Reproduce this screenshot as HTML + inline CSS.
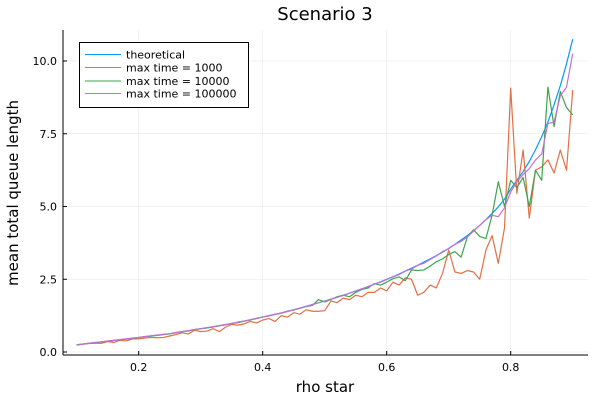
<!DOCTYPE html>
<html><head><meta charset="utf-8"><style>
body{margin:0;background:#fff}
svg{display:block;font-family:"DejaVu Sans","Liberation Sans",sans-serif}
</style></head><body>
<svg id="chart" width="600" height="400" viewBox="0 0 600 400">
<rect width="600" height="400" fill="#fff"/>
<g id="grid"></g>
<g id="axes"></g>
<g id="series"></g>
<text x="325" y="20" font-size="18" text-anchor="middle">Scenario 3</text>
<text x="325" y="392" font-size="15" text-anchor="middle">rho star</text>
<text x="18" y="193" font-size="15" text-anchor="middle" transform="rotate(-90 18 193)">mean total queue length</text>
<g>
<rect x="79.5" y="42.5" width="169" height="65" fill="#fff" stroke="#000" stroke-width="1"/>
<g><line x1="85" y1="54.5" x2="121" y2="54.5" stroke="#009AFA"/><text x="126" y="58.5" font-size="11">theoretical</text></g>
<g><line x1="85" y1="67.5" x2="121" y2="67.5" stroke="#E26F46"/><text x="126" y="71.5" font-size="11">max time = 1000</text></g>
<g><line x1="85" y1="81" x2="121" y2="81" stroke="#3EA44E"/><text x="126" y="85" font-size="11">max time = 10000</text></g>
<g><line x1="85" y1="93.5" x2="121" y2="93.5" stroke="#C271D2"/><text x="126" y="97.5" font-size="11">max time = 100000</text></g>
</g>
</svg>
<script>
const rho = [];
for (let i = 0; i <= 80; i++) rho.push(0.1 + i * 0.01);
const theoretical = [.25,.27,.30,.32,.35,.37,.40,.42,.45,.47,.50,.53,.55,.58,.60,.63,.66,.70,.73,.77,.80,.83,.87,.90,.94,.98,1.02,1.06,1.11,1.15,1.20,1.25,1.29,1.34,1.40,1.45,1.51,1.57,1.63,1.69,1.75,1.81,1.88,1.95,2.02,2.10,2.17,2.25,2.33,2.41,2.50,2.59,2.68,2.78,2.88,2.98,3.09,3.20,3.31,3.43,3.56,3.70,3.85,4.00,4.17,4.35,4.55,4.76,4.99,5.25,5.6,5.9,6.2,6.55,6.95,7.4,7.9,8.5,9.15,9.9,10.75];
const mt1000 = [.24,.27,.29,.30,.30,.36,.33,.40,.38,.45,.45,.48,.50,.49,.50,.55,.60,.66,.62,.75,.70,.72,.80,.70,.85,.95,.92,.97,1.05,1.00,1.10,1.15,1.05,1.25,1.20,1.35,1.30,1.45,1.40,1.40,1.42,1.75,1.70,1.85,1.80,1.95,1.90,2.05,2.05,2.20,2.10,2.40,2.30,2.55,2.50,1.95,2.05,2.30,2.20,2.70,3.50,2.75,2.70,2.80,2.75,2.50,3.50,4.00,3.05,4.26,9.07,5.45,6.94,4.60,6.25,6.36,6.60,6.15,6.94,6.25,9.0];
const mt10000 = [.24,.27,.30,.32,.35,.37,.40,.42,.44,.47,.50,.53,.55,.57,.60,.62,.66,.70,.72,.77,.80,.83,.86,.90,.93,.98,1.01,1.06,1.10,1.15,1.20,1.24,1.29,1.33,1.40,1.44,1.50,1.56,1.60,1.80,1.72,1.80,1.90,1.95,1.90,2.05,2.15,2.20,2.35,2.30,2.40,2.52,2.58,2.45,2.82,2.80,2.82,2.95,3.10,3.20,3.35,3.45,3.26,3.95,4.20,3.97,3.90,4.70,5.85,5.00,5.90,5.65,6.00,5.00,6.25,5.90,9.10,7.75,8.95,8.40,8.15];
const mt100000 = [.25,.27,.30,.33,.35,.38,.40,.43,.45,.48,.50,.53,.56,.58,.61,.63,.67,.70,.73,.77,.80,.84,.87,.91,.94,.98,1.03,1.06,1.11,1.16,1.20,1.25,1.30,1.34,1.39,1.45,1.51,1.56,1.63,1.69,1.75,1.82,1.88,1.94,2.02,2.09,2.17,2.24,2.33,2.40,2.49,2.58,2.66,2.78,2.85,2.98,3.05,3.18,3.30,3.45,3.55,3.70,3.80,3.95,4.15,4.35,4.55,4.70,4.65,4.95,5.50,5.85,6.10,6.30,6.60,6.80,7.85,7.90,8.80,9.10,10.25];
const xTicks = [0.2, 0.4, 0.6, 0.8];
const xTickLabels = ["0.2", "0.4", "0.6", "0.8"];
const yTicks = [0, 2.5, 5, 7.5, 10];
const yTickLabels = ["0.0", "2.5", "5.0", "7.5", "10.0"];

const X = v => 76.7 + (v - 0.1) * 620;
const Y = v => 352 - v * 29.1;
const NS = "http://www.w3.org/2000/svg";
function mk(tag, attrs, parent) {
  const e = document.createElementNS(NS, tag);
  for (const k in attrs) e.setAttribute(k, attrs[k]);
  parent.appendChild(e);
  return e;
}
const grid = document.getElementById('grid');
const axes = document.getElementById('axes');
const series = document.getElementById('series');
const L = 63, R = 588, T = 30, B = 355;
xTicks.forEach((t, i) => {
  const gl = mk('line', {x1: X(t), x2: X(t), y1: T, y2: B, stroke: '#000', 'stroke-opacity': 0.1, 'stroke-width': 0.5}, grid);
  
  
  const tk = mk('line', {x1: X(t), x2: X(t), y1: B, y2: B - 4, stroke: '#000'}, axes);
  
  
  const tl = mk('text', {x: X(t), y: 371, 'font-size': 11, 'text-anchor': 'middle'}, axes);
  tl.textContent = xTickLabels[i];
  
  
});
yTicks.forEach((t, i) => {
  const gl = mk('line', {x1: L, x2: R, y1: Y(t), y2: Y(t), stroke: '#000', 'stroke-opacity': 0.1, 'stroke-width': 0.5}, grid);
  
  
  const tk = mk('line', {x1: L, x2: L + 4, y1: Y(t), y2: Y(t), stroke: '#000'}, axes);
  
  
  const tl = mk('text', {x: 57, y: Y(t) + 4, 'font-size': 11, 'text-anchor': 'end'}, axes);
  tl.textContent = yTickLabels[i];
  
  
});
const ax1 = mk('line', {x1: L, x2: L, y1: T, y2: B, stroke: '#000'}, axes);


const ax2 = mk('line', {x1: L, x2: R, y1: B, y2: B, stroke: '#000'}, axes);


function drawLine(vals, color, name) {
  const pts = vals.map((v, i) => X(rho[i]).toFixed(2) + ',' + Y(v).toFixed(2)).join(' ');
  const p = mk('polyline', {points: pts, fill: 'none', stroke: color, 'stroke-width': 1.2, 'stroke-linejoin': 'round'}, series);
  
  
}
drawLine(theoretical, '#009AFA', 'series-theoretical');
drawLine(mt1000, '#E26F46', 'series-max-time-1000');
drawLine(mt10000, '#3EA44E', 'series-max-time-10000');
drawLine(mt100000, '#C271D2', 'series-max-time-100000');
</script>
</body></html>
